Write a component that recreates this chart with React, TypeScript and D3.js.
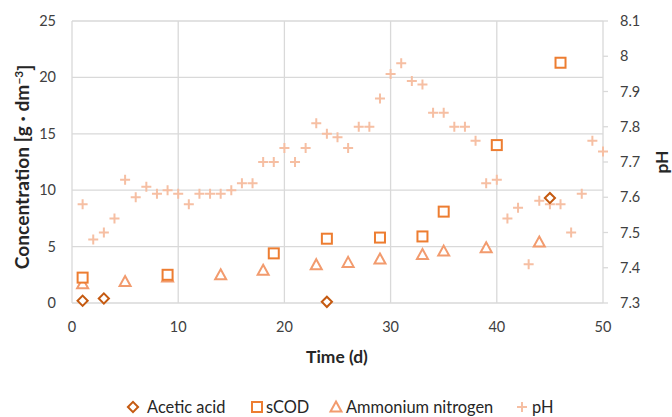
import React from "react";
import * as d3 from "d3";

const acetDays = [1, 3, 24, 45];
const acetVals = [0.2, 0.4, 0.1, 9.3];
const codDays = [1, 9, 19, 24, 29, 33, 35, 40, 46];
const codVals = [2.25, 2.5, 4.4, 5.7, 5.8, 5.9, 8.1, 14.0, 21.3];
const nhDays = [1, 5, 9, 14, 18, 23, 26, 29, 33, 35, 39, 44];
const nhVals = [1.7, 1.9, 2.3, 2.5, 2.9, 3.4, 3.6, 3.9, 4.3, 4.6, 4.9, 5.4];
const phDays = d3.range(1, 51);
const phVals = [
  7.58, 7.48, 7.5, 7.54, 7.65, 7.6, 7.63, 7.61, 7.62, 7.61,
  7.58, 7.61, 7.61, 7.61, 7.62, 7.64, 7.64, 7.7, 7.7, 7.74,
  7.7, 7.74, 7.81, 7.78, 7.77, 7.74, 7.8, 7.8, 7.88, 7.95,
  7.98, 7.93, 7.92, 7.84, 7.84, 7.8, 7.8, 7.76, 7.64, 7.65,
  7.54, 7.57, 7.41, 7.59, 7.58, 7.58, 7.5, 7.61, 7.76, 7.73,
];
const xTicks = [0, 10, 20, 30, 40, 50];
const yTicks = [0, 5, 10, 15, 20, 25];
const phTicks = [7.3, 7.4, 7.5, 7.6, 7.7, 7.8, 7.9, 8.0, 8.1];

const C_ACET = "#C55A11";
const C_COD = "#ED7D31";
const C_NH = "#F29B6E";
const C_PH = "#F6BFA3";
const FONT = "Lato, 'Open Sans', sans-serif";

export default function App() {
  const L = 72, R = 603, T = 21, B = 303;
  const x = d3.scaleLinear().domain([0, 50]).range([L, R]);
  const y = d3.scaleLinear().domain([0, 25]).range([B, T]);
  const yp = d3.scaleLinear().domain([7.3, 8.1]).range([B, T]);
  const fs = 14.5;
  const fsL = 16.4;
  const fsT = 17.4;
  const fsY = 19.2;

  const diamond = (cx: number, cy: number, c: string, k: string | number) => (
    <rect key={k} x={cx - 3.6} y={cy - 3.6} width={7.2} height={7.2}
      transform={`rotate(45 ${cx} ${cy})`} fill="#fff" stroke={c} strokeWidth={2} />
  );
  const square = (cx: number, cy: number, c: string, k: string | number) => (
    <rect key={k} x={cx - 5} y={cy - 5} width={10} height={10} fill="#fff" stroke={c} strokeWidth={2} />
  );
  const tri = (cx: number, cy: number, c: string, k: string | number) => (
    <path key={k} d={`M${cx},${cy - 5.5}L${cx + 5.5},${cy + 4.5}L${cx - 5.5},${cy + 4.5}Z`}
      fill="#fff" stroke={c} strokeWidth={2} strokeLinejoin="miter" />
  );
  const plus = (cx: number, cy: number, c: string, k: string | number) => (
    <path key={k} d={`M${cx - 5},${cy}H${cx + 5}M${cx},${cy - 5}V${cy + 5}`}
      stroke={c} strokeWidth={2} fill="none" />
  );

  const legend = [
    { label: "Acetic acid", mx: 133, tx: 147, f: diamond, c: C_ACET },
    { label: "sCOD", mx: 257, tx: 266, f: square, c: C_COD },
    { label: "Ammonium nitrogen", mx: 336, tx: 346, f: tri, c: C_NH },
    { label: "pH", mx: 522, tx: 532, f: plus, c: C_PH },
  ];

  return (
    <svg width={672} height={417} style={{ position: "absolute", left: 0, top: 0, background: "#fff" }}
      fontFamily={FONT}>
      <rect width={672} height={417} fill="#fff" />
      {yTicks.map((t) => (
        <line key={"gy" + t} x1={L} x2={R} y1={y(t)} y2={y(t)} stroke="#D9D9D9" strokeWidth={1.3} />
      ))}
      {xTicks.map((t) => (
        <line key={"gx" + t} x1={x(t)} x2={x(t)} y1={T} y2={B} stroke="#D9D9D9" strokeWidth={1.3} />
      ))}
      {phTicks.map((t) => (
        <line key={"pt" + t} x1={R} x2={R + 5} y1={yp(t)} y2={yp(t)} stroke="#D9D9D9" strokeWidth={1.3} />
      ))}
      {yTicks.map((t) => (
        <text key={"ly" + t} x={56} y={y(t)} dy="0.35em" textAnchor="end" fontSize={fs} fill="#404040">{t}</text>
      ))}
      {xTicks.map((t) => (
        <text key={"lx" + t} x={x(t)} y={327} dy="0.35em" textAnchor="middle" fontSize={fs} fill="#404040">{t}</text>
      ))}
      {phTicks.map((t) => (
        <text key={"lp" + t} x={620} y={yp(t)} dy="0.35em" textAnchor="start" fontSize={fs} fill="#404040">
          {t === 8 ? "8" : t.toFixed(1)}
        </text>
      ))}
      <text x={337} y={357} dy="0.35em" textAnchor="middle" fontSize={fsT} fontWeight="bold" fill="#262626">Time (d)</text>
      <text transform={`translate(22,${(T + B) / 2 + 5}) rotate(-90)`} dy="0.35em" textAnchor="middle"
        fontSize={fsY} fontWeight="bold" fill="#262626">
        Concentration [g · dm<tspan dy="-0.45em" fontSize={fsY * 0.62}>−3</tspan><tspan dy="0.45em">]</tspan>
      </text>
      <text transform={`translate(662,${(T + B) / 2}) rotate(-90)`} dy="0.35em" textAnchor="middle"
        fontSize={fsT} fontWeight="bold" fill="#262626">pH</text>

      {phDays.map((d, i) => plus(x(d), yp(phVals[i]), C_PH, "ph" + i))}
      {nhDays.map((d, i) => tri(x(d), y(nhVals[i]), C_NH, "nh" + i))}
      {codDays.map((d, i) => square(x(d), y(codVals[i]), C_COD, "cod" + i))}
      {acetDays.map((d, i) => diamond(x(d), y(acetVals[i]), C_ACET, "ac" + i))}

      {legend.map((g, i) => (
        <g key={"lg" + i}>
          {g.f(g.mx, 407, g.c, "lm" + i)}
          <text x={g.tx} y={407} dy="0.35em" fontSize={fsL} fill="#262626">{g.label}</text>
        </g>
      ))}
    </svg>
  );
}
